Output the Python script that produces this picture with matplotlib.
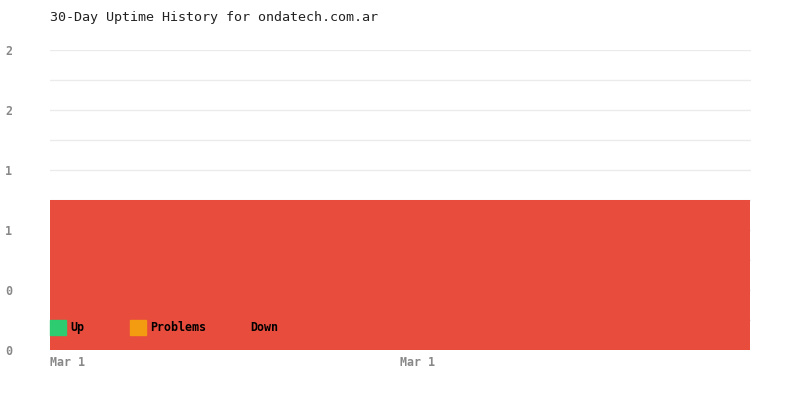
import matplotlib.pyplot as plt
from matplotlib.patches import Rectangle

# data
days = ["Mar 1"]
up = [0]
problems = [0]
down = [1]
x_tick_labels = ["Mar 1", "Mar 1"]
y_ticks = [0, 0.4, 0.8, 1.2, 1.6, 2.0]
legend_labels = ["Up", "Problems", "Down"]
legend_colors = ["#2ecc71", "#f39c12", "#e74c3c"]

mono = ["DejaVu Sans Mono"]

fig = plt.figure(figsize=(8, 4), dpi=100)
ax = fig.add_axes([50 / 800, 50 / 400, 701 / 800, 300 / 400])

xs = list(range(len(days)))
ax.bar(xs, up, width=1, align="edge", color=legend_colors[0], zorder=2)
ax.bar(xs, problems, width=1, bottom=up, align="edge", color=legend_colors[1], zorder=2)
bottoms = [u + p for u, p in zip(up, problems)]
ax.bar(xs, down, width=1, bottom=bottoms, align="edge", color=legend_colors[2], zorder=2)

ax.set_xlim(0, len(days) * 701 / 700)
ax.set_ylim(0, 2)

# grid every 0.2, labels every 0.4
for g in [i * 0.2 for i in range(11)]:
    ax.axhline(g, color="#ebebeb", lw=1, zorder=1)

ax.set_yticks(y_ticks)
ax.set_yticklabels([f"{v:.0f}" for v in y_ticks], family=mono, fontsize=8.4,
                   fontweight="bold", color="#888888", ha="left")
ax.tick_params(axis="y", length=0, pad=32.4)  # ~45 px

ax.set_xticks([0, 0.5 * len(days)])
ax.set_xticklabels(x_tick_labels, family=mono, fontsize=8.4, fontweight="bold",
                   color="#888888", ha="left")
ax.tick_params(axis="x", length=0, pad=4)

for s in ax.spines.values():
    s.set_visible(False)

# legend drawn in pixel-like axes coords
for i, (lab, col) in enumerate(zip(legend_labels, legend_colors)):
    x0 = (i * 80) / 701
    ax.add_patch(Rectangle((x0, 15 / 300), 16 / 701, 15 / 300, transform=ax.transAxes,
                           color=col, zorder=3, clip_on=False))
    tx = x0 + (20 if i < 2 else 40) / 701
    ax.text(tx, 22.5 / 300, lab, transform=ax.transAxes, family=mono, fontsize=8.4,
            fontweight="bold", color="black", va="center", ha="left", zorder=4)

fig.text(50 / 800, 1 - 18 / 400, "30-Day Uptime History for ondatech.com.ar",
         family=mono, fontsize=9.6, color="#222222", va="center", ha="left")

fig.savefig("out.png", dpi=100)
